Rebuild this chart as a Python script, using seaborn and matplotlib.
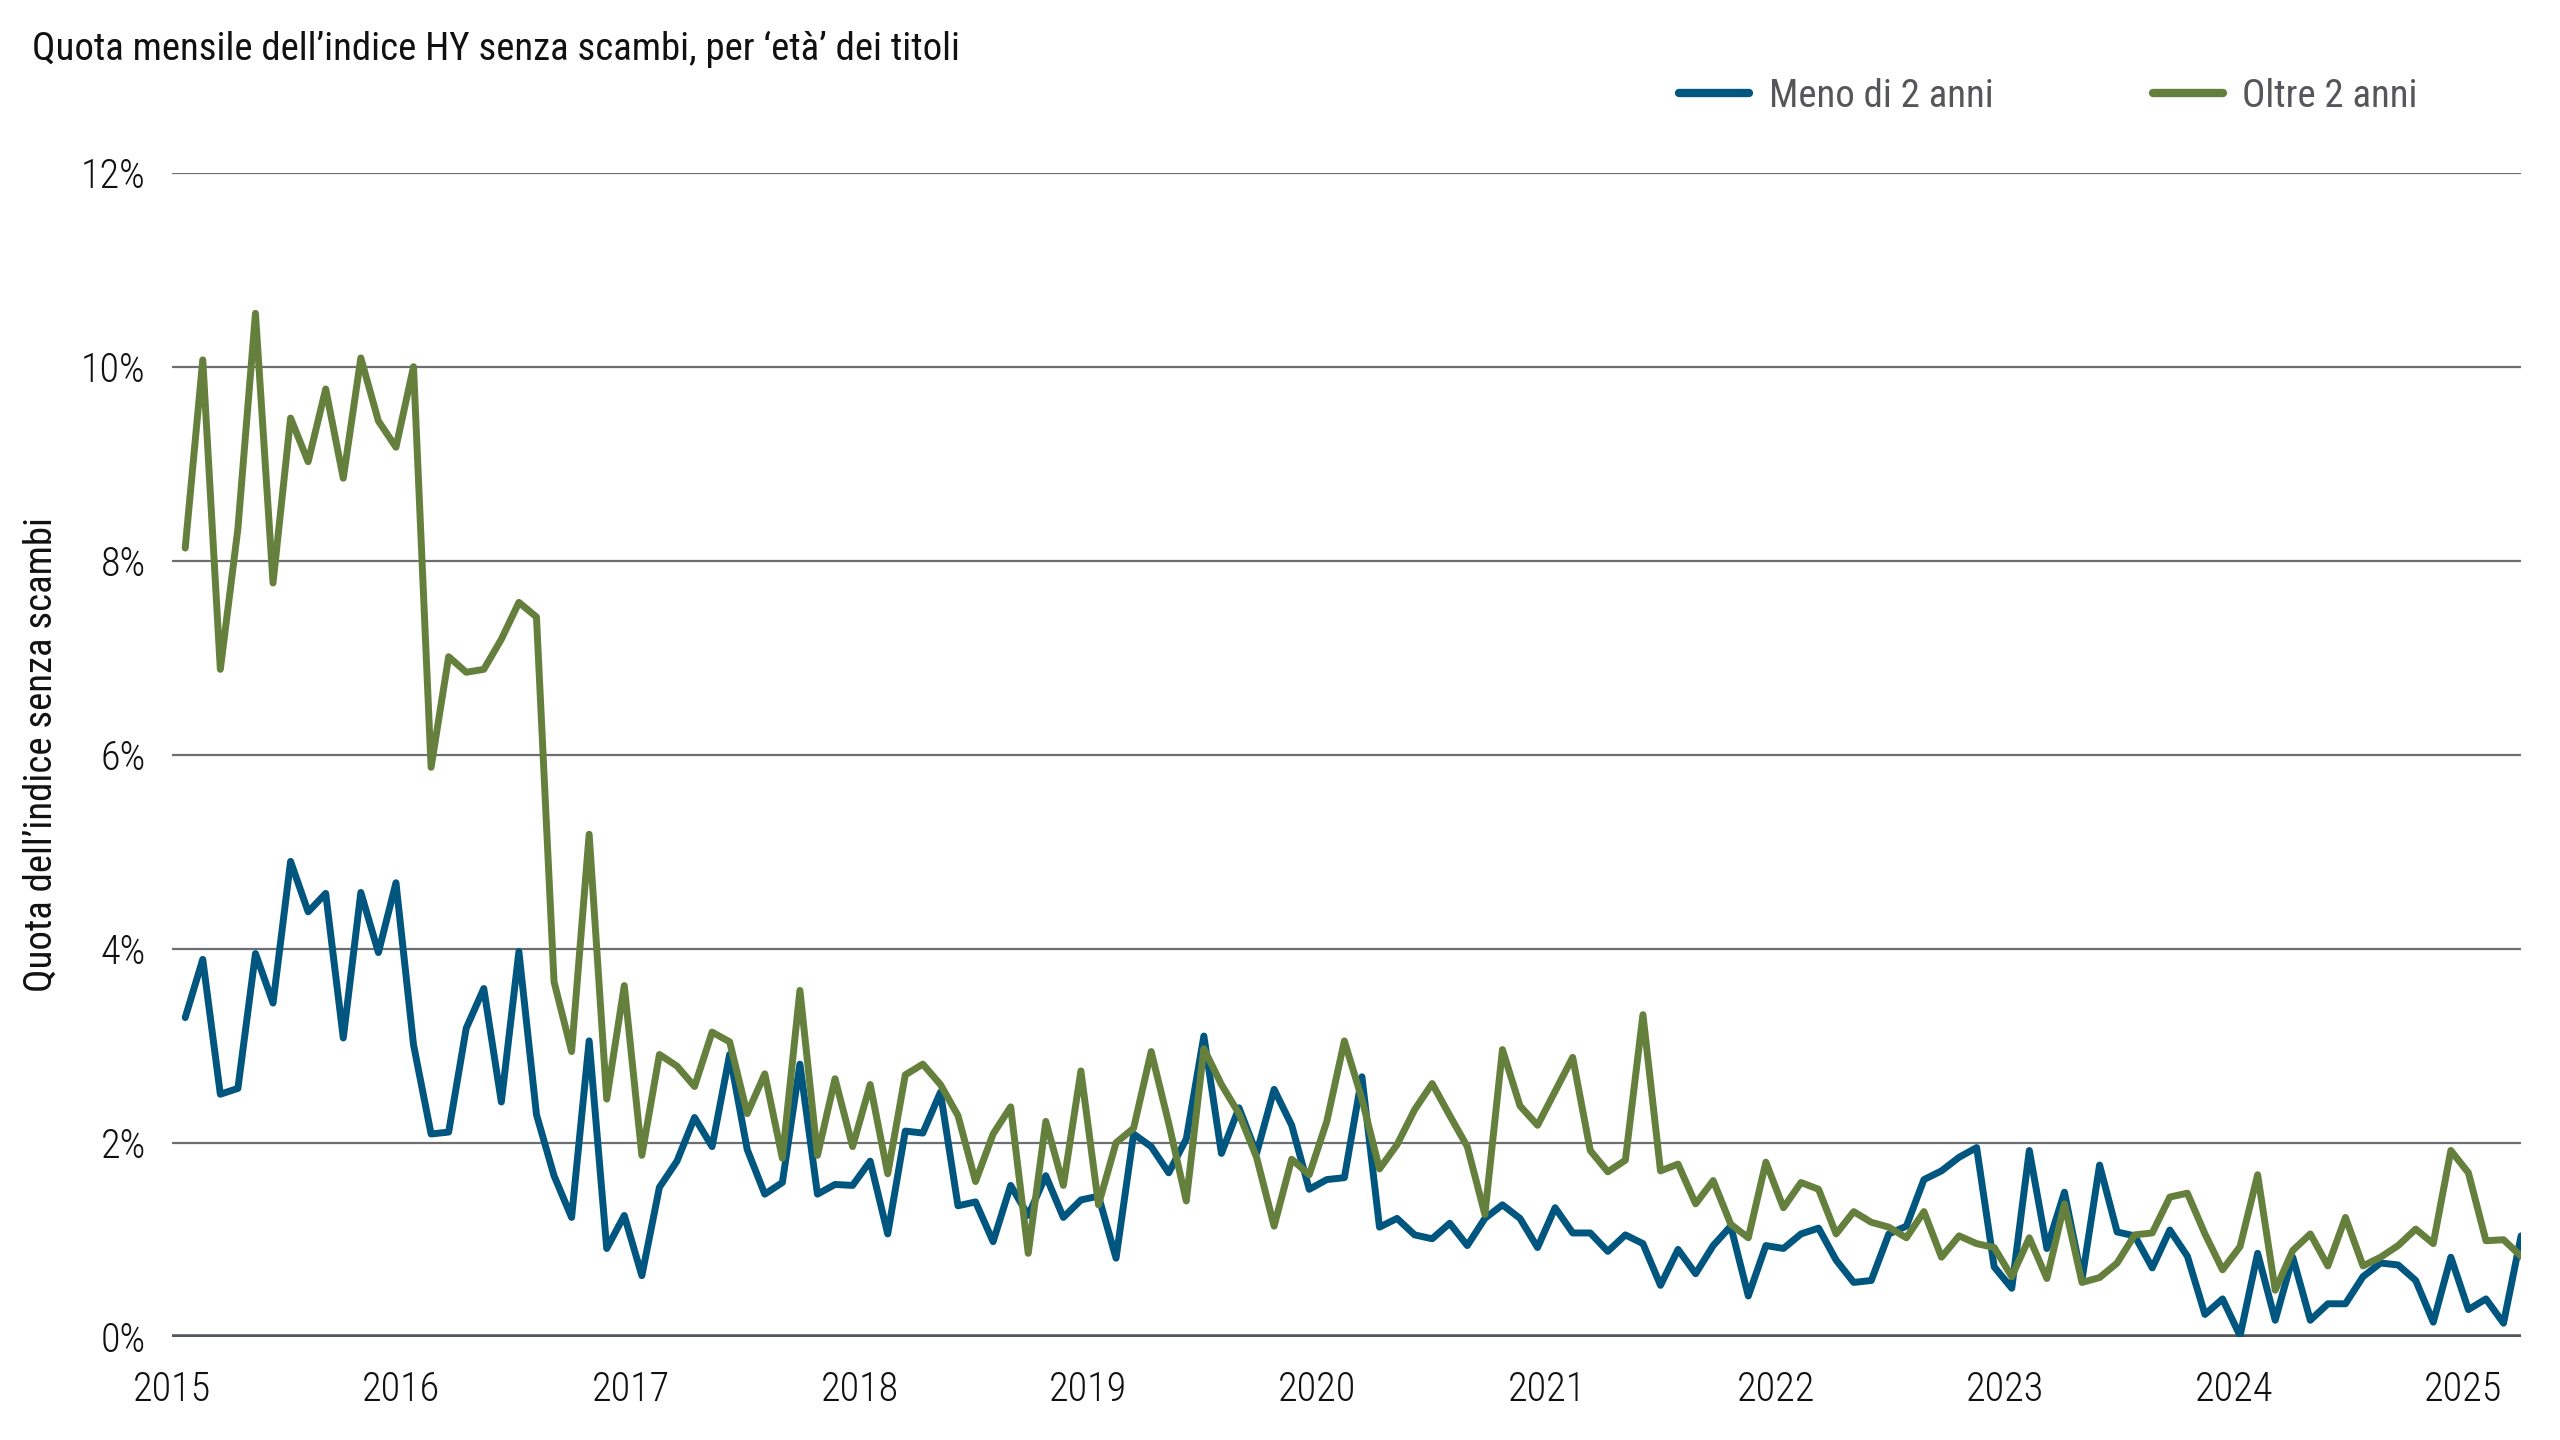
import matplotlib
matplotlib.use("Agg")
import matplotlib.pyplot as plt
import matplotlib.dates as mdates
from matplotlib import font_manager
from matplotlib.ticker import FuncFormatter
import numpy as np
import pandas as pd
import seaborn as sns

# 4-week observations, starting late January 2015
start_date = "2015-01-22"
n_periods = 134

meno_2_anni = [
    3.29, 3.89, 2.50, 2.56, 3.95, 3.44, 4.90, 4.38, 4.57, 3.08, 4.58, 3.96, 4.68, 3.01,
    2.09, 2.11, 3.18, 3.59, 2.42, 3.97, 2.29, 1.66, 1.23, 3.05, 0.91, 1.25, 0.63, 1.54,
    1.81, 2.26, 1.96, 2.91, 1.93, 1.47, 1.59, 2.81, 1.47, 1.57, 1.56, 1.81, 1.06, 2.12,
    2.10, 2.52, 1.35, 1.39, 0.98, 1.56, 1.25, 1.66, 1.23, 1.41, 1.45, 0.81, 2.09, 1.96,
    1.69, 2.04, 3.10, 1.89, 2.36, 1.89, 2.55, 2.18, 1.52, 1.62, 1.64, 2.68, 1.13, 1.22,
    1.05, 1.01, 1.17, 0.94, 1.22, 1.36, 1.22, 0.92, 1.33, 1.07, 1.07, 0.88, 1.05, 0.96,
    0.53, 0.90, 0.65, 0.94, 1.14, 0.42, 0.94, 0.91, 1.06, 1.12, 0.79, 0.56, 0.58, 1.06,
    1.14, 1.62, 1.71, 1.85, 1.95, 0.72, 0.50, 1.92, 0.91, 1.49, 0.59, 1.77, 1.08, 1.04,
    0.71, 1.10, 0.83, 0.23, 0.39, 0.01, 0.86, 0.17, 0.82, 0.17, 0.34, 0.34, 0.62, 0.76,
    0.74, 0.58, 0.15, 0.82, 0.28, 0.39, 0.14, 1.04,
]

oltre_2_anni = [
    8.13, 10.07, 6.88, 8.33, 10.55, 7.77, 9.47, 9.02, 9.77, 8.85, 10.09, 9.44, 9.17, 10.00,
    5.87, 7.01, 6.85, 6.88, 7.19, 7.57, 7.42, 3.66, 2.94, 5.18, 2.45, 3.62, 1.87, 2.91,
    2.79, 2.58, 3.14, 3.04, 2.30, 2.71, 1.84, 3.57, 1.87, 2.66, 1.96, 2.60, 1.68, 2.70,
    2.81, 2.60, 2.28, 1.60, 2.09, 2.37, 0.86, 2.22, 1.56, 2.74, 1.36, 2.00, 2.15, 2.94,
    2.20, 1.40, 2.97, 2.60, 2.30, 1.85, 1.14, 1.83, 1.67, 2.22, 3.05, 2.45, 1.73, 1.98,
    2.34, 2.61, 2.28, 1.96, 1.26, 2.96, 2.38, 2.18, 2.53, 2.88, 1.92, 1.70, 1.82, 3.32,
    1.71, 1.78, 1.37, 1.61, 1.16, 1.02, 1.80, 1.33, 1.59, 1.52, 1.06, 1.29, 1.18, 1.13,
    1.02, 1.29, 0.82, 1.04, 0.96, 0.92, 0.62, 1.02, 0.60, 1.37, 0.56, 0.61, 0.76, 1.05,
    1.07, 1.44, 1.48, 1.06, 0.69, 0.93, 1.67, 0.48, 0.89, 1.06, 0.73, 1.23, 0.73, 0.82,
    0.94, 1.11, 0.96, 1.92, 1.69, 0.99, 1.00, 0.83,
]

series_names = ["Meno di 2 anni", "Oltre 2 anni"]
series_colors = ["#00567f", "#64803c"]
y_ticks = [0, 2, 4, 6, 8, 10, 12]

title = "Quota mensile dell\u2019indice HY senza scambi, per \u2018et\u00e0\u2019 dei titoli"
y_label = "Quota dell\u2019indice senza scambi"


def pick_font(candidates):
    names = {f.name for f in font_manager.fontManager.ttflist}
    for c in candidates:
        if c in names:
            return c
    return "DejaVu Sans"


def main():
    dates = pd.date_range(start_date, periods=n_periods, freq="28D")
    df = pd.concat([
        pd.DataFrame({"data": dates, "quota": meno_2_anni, "serie": series_names[0]}),
        pd.DataFrame({"data": dates, "quota": oltre_2_anni, "serie": series_names[1]}),
    ])

    sns.set_theme(style="white")
    font = pick_font(["Roboto Condensed", "Liberation Sans Narrow", "Roboto"])
    plt.rcParams["font.family"] = [font, "DejaVu Sans"]

    fig = plt.figure(figsize=(25.6, 14.4), dpi=100)
    ax = fig.add_axes([0.0672, 0.0717, 0.9176, 0.8084])

    sns.lineplot(data=df, x="data", y="quota", hue="serie", hue_order=series_names,
                 palette=series_colors, linewidth=5, ax=ax, legend=True)
    for line in ax.get_lines():
        line.set_solid_joinstyle("round")
        line.set_solid_capstyle("round")

    ax.set_ylim(0, 12)
    ax.set_yticks(y_ticks)
    ax.yaxis.set_major_formatter(FuncFormatter(lambda v, p: f"{v:.0f}%"))
    ax.set_xlim(pd.Timestamp("2015-01-01"), dates[-1])
    ax.xaxis.set_major_locator(mdates.YearLocator())
    ax.xaxis.set_major_formatter(mdates.DateFormatter("%Y"))

    ax.grid(axis="y", color="#6d6e71", linewidth=1.6)
    ax.grid(axis="x", visible=False)
    ax.axhline(0, color="#54575b", linewidth=4, zorder=1)
    for s in ax.spines.values():
        s.set_visible(False)

    ax.tick_params(axis="both", length=0, labelsize=29, labelcolor="#111111")
    ax.tick_params(axis="y", pad=19)
    ax.tick_params(axis="x", pad=24)
    for lab in ax.get_xticklabels() + ax.get_yticklabels():
        lab.set_fontweight("light")

    ax.set_xlabel("")
    ax.set_ylabel(y_label, fontsize=28, color="#111111")
    ax.yaxis.set_label_coords(-0.048, 0.5)

    handles, labels = ax.get_legend_handles_labels()
    ax.get_legend().remove()
    leg = fig.legend(handles, labels, loc="center left", bbox_to_anchor=(0.656, 0.933),
                     ncol=2, frameon=False, fontsize=28, handlelength=1.8,
                     handletextpad=0.5, columnspacing=4.1, borderpad=0, borderaxespad=0)
    for t in leg.get_texts():
        t.set_color("#55565a")
    for h in leg.get_lines():
        h.set_linewidth(6)

    fig.text(0.0125, 0.958, title, fontsize=28, color="#111111", va="baseline", ha="left")

    fig.savefig("out.png", dpi=100, facecolor="white")


if __name__ == "__main__":
    main()
